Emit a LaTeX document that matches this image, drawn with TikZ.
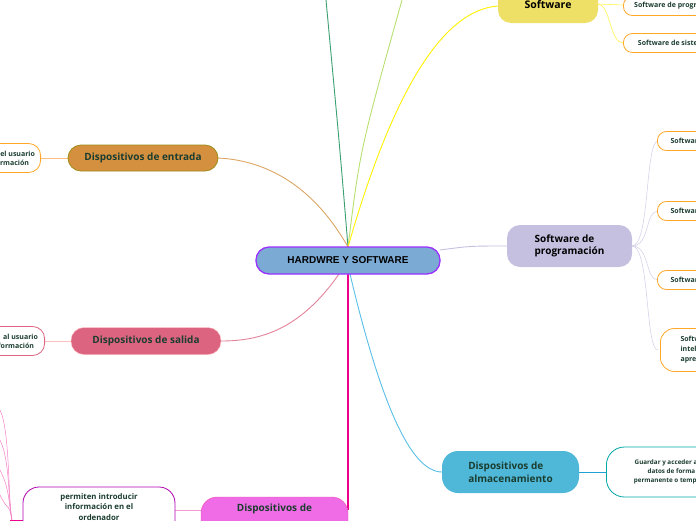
\documentclass[tikz,border=0pt]{standalone}
\usepackage{fontspec}
\setmainfont{Open Sans}
\newfontfamily\arialf{Liberation Sans}
\definecolor{txt}{HTML}{1B3D2F}
\definecolor{cfill}{HTML}{7BAAD4}
\definecolor{cbord}{HTML}{9B30FF}
\definecolor{swf}{HTML}{EEE066}
\definecolor{spf}{HTML}{C5BFE0}
\definecolor{alf}{HTML}{4FB8D8}
\definecolor{enf}{HTML}{D4903F}
\definecolor{saf}{HTML}{DC6480}
\definecolor{ddf}{HTML}{F06CE6}
\definecolor{subb}{HTML}{FFA726}
\begin{document}
\begin{tikzpicture}[x=1pt,y=-1pt,
 main/.style={rounded corners=13pt,font=\bfseries\fontsize{10}{12.5}\selectfont,text=txt,align=left,inner sep=0pt},
 sub/.style={draw=subb,line width=0.8pt,rounded corners=9pt,fill=white,font=\bfseries\fontsize{7}{9}\selectfont,text=txt,inner sep=0pt},
 con/.style={line width=0.9pt}]
\useasboundingbox (0,0) rectangle (696,520);
\clip (0,0) rectangle (696,520);
% connectors
\coordinate (ct) at (348,247);
\coordinate (cb) at (348,274);
\coordinate (g1) at (326,0);
\coordinate (g2) at (402,0);
\draw[con,color={rgb,255:red,58;green,160;blue,112}] (ct) .. controls (340,150) .. (g1);
\draw[con,color={rgb,255:red,184;green,224;blue,112}] (ct) .. controls (360,150) .. (g2);
\draw[con,color=yellow] (ct) .. controls (390,100) and (440,10) .. (498,6);
\draw[con,color=enf!80] (ct) .. controls (310,180) and (260,160) .. (218,158);
\draw[con,color=saf!80] (339,274) .. controls (300,330) and (260,341) .. (221,341);
\draw[con,color=magenta,line width=1.2pt] (cb) -- (348,510);
\draw[con,color=cyan!80!teal!70!white] (350,274) .. controls (380,400) and (410,472) .. (442,472);
\draw[con,color=spf] (440,250) .. controls (470,246) .. (507,246);
% subtree connectors
\foreach \y in {5,43}{\draw[color=yellow!70,line width=0.6pt] (598,4) .. controls (610,4) and (610,\y) .. (623,\y);}
\foreach \y in {141,211,280,350}{\draw[color=spf!70,line width=0.6pt] (632,246) .. controls (650,246) and (645,\y) .. (658,\y);}
\draw[color=cyan!70!teal,line width=0.6pt] (579,472) -- (606,472);
\draw[color=orange!50,line width=0.6pt] (41,158) -- (68,158);
\draw[color=pink,line width=0.6pt] (45,341) -- (71,341);
\draw[color=magenta!40,line width=0.6pt] (175,510) -- (201,510);
\draw[color=magenta,line width=1pt] (10,520) -- (23,520);
\foreach \y in {410,440,470,495}{\draw[color=magenta!50,line width=0.5pt] (12,520) .. controls (8,500) and (10,\y+20) .. (0,\y);}
% nodes
\node[main,draw=cbord,line width=1.3pt,fill=cfill,minimum width=184pt,minimum height=27pt,align=center,font=\arialf\bfseries\fontsize{10}{12}\selectfont,text=black] (c) at (348,260.5) {HARDWRE Y SOFTWARE};
\node[main,fill=swf,minimum width=100pt,minimum height=36pt,align=center,font=\bfseries\fontsize{10.5}{12}\selectfont,text=black] (sw) at (548,5) {\raisebox{-5pt}{Software}};
\node[sub,minimum width=120pt,minimum height=19pt,anchor=west,align=left] (sw1) at (623,6) {\hspace*{0pt}Software de programación\hspace*{6pt}};
\node[sub,minimum width=120pt,minimum height=19pt,anchor=west,align=left] (sw2) at (623,43) {\hspace*{0pt}Software de sistema\hspace*{20pt}};
\node[main,fill=spf,minimum width=125pt,minimum height=42pt,text=black] (sp) at (569.5,246) {Software de\\programación};
\node[sub,minimum width=80pt,minimum height=19pt,anchor=west,align=left] (p1) at (657,141) {\hspace*{-2pt}Software de xx};
\node[sub,minimum width=80pt,minimum height=19pt,anchor=west,align=left] (p2) at (657,211) {\hspace*{-2pt}Software de xx};
\node[sub,minimum width=80pt,minimum height=19pt,anchor=west,align=left] (p3) at (657,280) {\hspace*{-2pt}Software de xx};
\node[sub,minimum width=80pt,minimum height=43pt,anchor=west,align=left,rounded corners=14pt,font=\bfseries\fontsize{7}{10}\selectfont] (p4) at (660,350) {\hspace*{2pt}Software de\\\hspace*{2pt}inteligencia\\\hspace*{2pt}aprendizaje};
\node[main,fill=alf,minimum width=137pt,minimum height=42pt,text=txt,rounded corners=16pt] (al) at (510.5,472) {Dispositivos de\\almacenamiento};
\node[sub,draw=teal!70!cyan,minimum width=120pt,minimum height=50pt,anchor=west,rounded corners=18pt,font=\bfseries\fontsize{6.3}{9}\selectfont,align=center] (al1) at (606,472) {\hspace*{10pt}Guardar y acceder a los\\\hspace*{10pt}datos de forma\\\hspace*{10pt}permanente o temporal};
\node[main,draw=olive!70!brown,line width=0.8pt,fill=enf,minimum width=150pt,minimum height=26pt,align=center] (en) at (143,158) {Dispositivos de entrada};
\node[sub,minimum width=60pt,minimum height=29pt,anchor=east,align=right,rounded corners=12pt] (en1) at (41,158) {del usuario\\información\hspace*{6pt}};
\node[main,fill=saf,draw=pink,minimum width=150pt,minimum height=27pt,align=center] (sa) at (146,341) {Dispositivos de salida};
\node[sub,draw=saf,minimum width=60pt,minimum height=29pt,anchor=east,align=right,rounded corners=12pt] (sa1) at (45,341) {al usuario\\información\hspace*{4pt}};
\node[main,fill=ddf,draw=magenta!70,minimum width=147pt,minimum height=40pt,rounded corners=16pt] (dd) at (274.5,517) {};
\node[font=\bfseries\fontsize{10}{12}\selectfont,text=txt] at (274.5,509) {Dispositivos de};
\node[sub,draw=violet!60!magenta,minimum width=152pt,minimum height=50pt,rounded corners=16pt] (pi) at (99,512) {};
\node[font=\bfseries\fontsize{7.8}{10.5}\selectfont,text=txt,align=center,anchor=north] at (99,490) {permiten introducir\\información en el\\ordenador};
\end{tikzpicture}
\end{document}
